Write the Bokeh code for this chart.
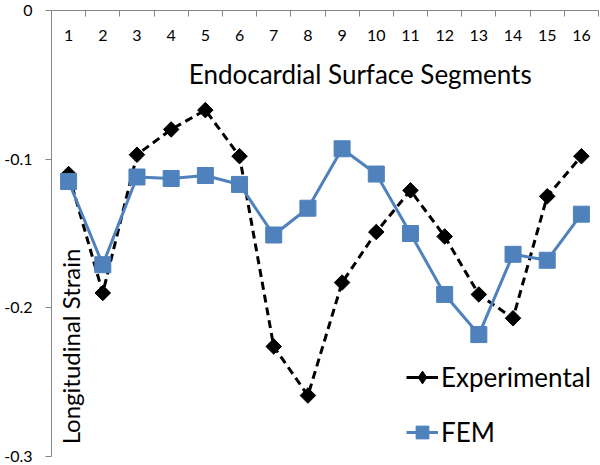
import numpy as np
from bokeh.plotting import figure
from bokeh.models import FixedTicker, Range1d, Legend, LegendItem, ColumnDataSource
from bokeh.core.properties import value
from bokeh.embed import file_html
from bokeh.resources import INLINE

segments = list(range(1, 17))
tick_labels = [str(s) for s in segments]
experimental = [-0.110, -0.190, -0.097, -0.080, -0.067, -0.098, -0.226, -0.259,
                -0.183, -0.149, -0.121, -0.152, -0.191, -0.207, -0.125, -0.098]
fem = [-0.115, -0.171, -0.112, -0.113, -0.111, -0.117, -0.151, -0.133,
       -0.093, -0.110, -0.150, -0.191, -0.218, -0.164, -0.168, -0.137]
y_ticks = [0, -0.1, -0.2, -0.3]
y_tick_labels = {0: "0", -0.1: "-0.1", -0.2: "-0.2", -0.3: "-0.3"}
x_title = "Endocardial Surface Segments"
y_title = "Longitudinal Strain"

FONT = "Lato"
BLUE = "#4F81BD"
GRAY = "#868686"

p = figure(width=600, height=465, output_backend="svg", toolbar_location=None,
           x_axis_location="above", min_border_left=51, min_border_right=2,
           min_border_top=10, min_border_bottom=9)
p.x_range = Range1d(0.5, 16.5)
p.y_range = Range1d(-0.3, 0)
p.outline_line_color = None
p.xgrid.visible = False
p.ygrid.visible = False
p.background_fill_color = "white"
p.border_fill_color = "white"

# top axis: labels at category centres (drawn inside), ticks at boundaries
xa = p.xaxis[0]
xa.ticker = FixedTicker(ticks=segments,
                        minor_ticks=[s - 0.5 for s in segments] + [segments[-1] + 0.5])
xa.major_label_overrides = {s: lab for s, lab in zip(segments, tick_labels)}
xa.axis_line_color = GRAY
xa.major_tick_line_color = None
xa.major_tick_in = 0
xa.major_tick_out = 0
xa.minor_tick_line_color = GRAY
xa.minor_tick_in = 6
xa.minor_tick_out = 0
xa.major_label_text_font = FONT
xa.major_label_text_font_size = "16px"
xa.major_label_text_color = "black"
xa.major_label_standoff = -30

ya = p.yaxis[0]
ya.ticker = FixedTicker(ticks=y_ticks)
ya.major_label_overrides = y_tick_labels
ya.axis_line_color = GRAY
ya.major_tick_line_color = GRAY
ya.major_tick_in = 0
ya.major_tick_out = 6
ya.minor_tick_line_color = None
ya.major_label_text_font = FONT
ya.major_label_text_font_size = "16px"
ya.major_label_text_color = "black"
ya.major_label_standoff = 13

src = ColumnDataSource(dict(x=segments, exp=experimental, fem=fem))

l1 = p.line("x", "exp", source=src, line_color="black", line_width=3, line_dash="8 5")
s1 = p.scatter("x", "exp", source=src, marker="square", angle=np.pi / 4, size=11,
               fill_color="black", line_color="black")
l2 = p.line("x", "fem", source=src, line_color=BLUE, line_width=3)
s2 = p.scatter("x", "fem", source=src, marker="square", size=16,
               fill_color=BLUE, line_color=BLUE)

# legend samples (solid short line + diamond, as in the reference legend);
# NaN data so nothing is drawn in the plot area itself
lg_line = p.line(x=[np.nan, np.nan], y=[np.nan, np.nan], line_color="black", line_width=3)
lg_diam = p.scatter(x=[np.nan], y=[np.nan], marker="diamond", size=14,
                    fill_color="black", line_color="black")

p.text([9.53], [-0.043], text=[x_title], text_font=value(FONT),
       text_font_size="26px", text_align="center", text_baseline="middle",
       text_color="black")
p.text([1.056], [-0.226], text=[y_title], angle=np.pi / 2, text_font=value(FONT),
       text_font_size="24px", text_align="center", text_baseline="middle",
       text_color="black")

legend = Legend(items=[LegendItem(label="Experimental", renderers=[lg_line, lg_diam]),
                       LegendItem(label="FEM", renderers=[l2, s2])],
                location=(355, 8))
legend.border_line_color = None
legend.background_fill_alpha = 0
legend.padding = 0
legend.margin = 0
legend.spacing = 23
legend.glyph_width = 32
legend.glyph_height = 32
legend.label_height = 32
legend.label_standoff = 3
legend.label_text_font = FONT
legend.label_text_font_size = "26px"
legend.label_text_color = "black"
p.add_layout(legend, "center")

open("out.html", "w").write(file_html(p, INLINE))
